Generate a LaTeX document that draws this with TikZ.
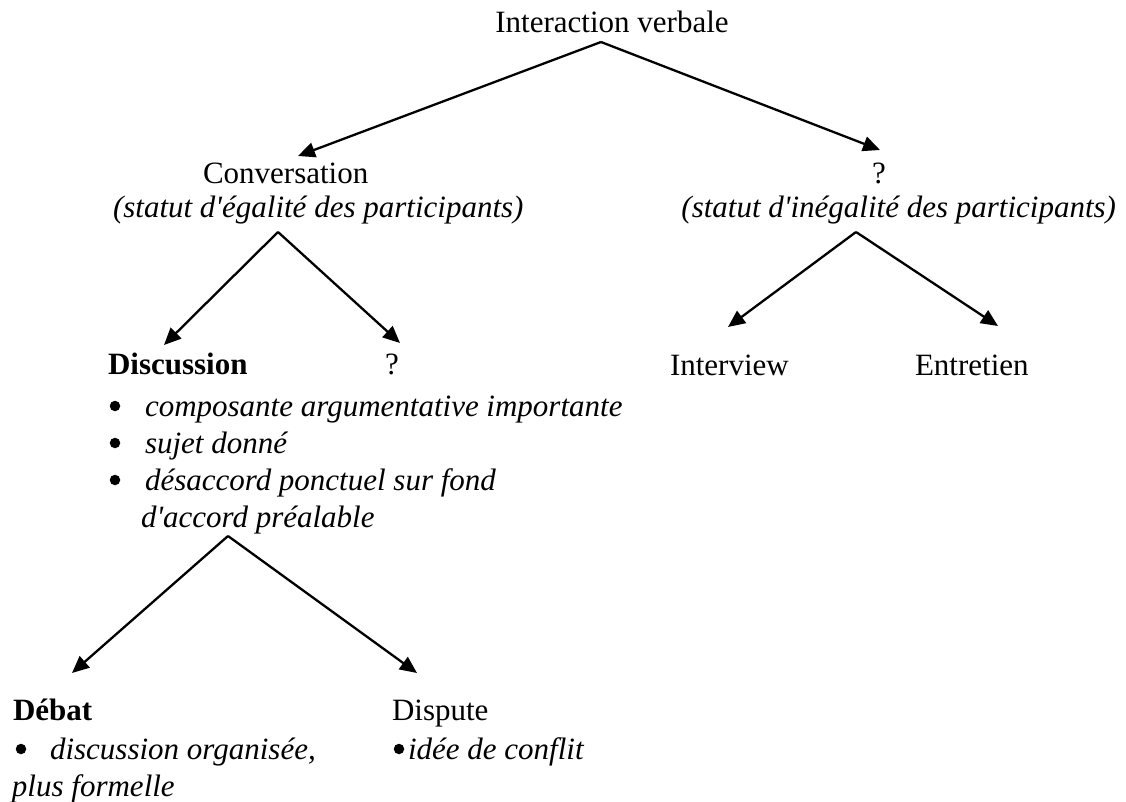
\documentclass[tikz,border=0pt]{standalone}
\usepackage{fontspec}
\setmainfont{Liberation Serif}
\usetikzlibrary{arrows.meta}
\begin{document}
\begin{tikzpicture}[x=1pt,y=-1pt,
  txt/.style={inner sep=0pt, outer sep=0pt, font=\fontsize{31}{37}\selectfont},
  it/.style={txt, font=\fontsize{31}{37}\selectfont\itshape},
  bf/.style={txt, font=\fontsize{31}{37}\selectfont\bfseries},
  bul/.style={circle, fill=black, inner sep=0pt, minimum size=10.5pt},
  arr/.style={line width=2.3pt, -{Triangle[length=17pt,width=15pt]}},
  ]
\useasboundingbox (0,0) rectangle (1126,802);
\newcommand{\ap}{\textquotesingle}
% level 0
\node[txt,anchor=base] (iv) at (612,33) {Interaction verbale};
% level 1
\node[txt,anchor=base west] (conv) at (203,184) {Conversation};
\node[it,anchor=base west] (egal) at (113,218) {(statut d\ap égalité des participants)};
\node[txt,anchor=base] (q1) at (879,184) {?};
\node[it,anchor=base east] (inegal) at (1116,218) {(statut d\ap inégalité des participants)};
% level 2
\node[bf,anchor=base west] (disc) at (108,374) {Discussion};
\node[txt,anchor=base] (q2) at (392,374) {?};
\node[txt,anchor=base west] (interv) at (670,375) {Interview};
\node[txt,anchor=base west] (entr) at (915,375) {Entretien};
\node[bul] (b1dot) at (115,406) {};
\node[it,anchor=base west] (b1) at (145,416) {composante argumentative importante};
\node[bul] (b2dot) at (115,443) {};
\node[it,anchor=base west] (b2) at (145,453) {sujet donné};
\node[bul] (b3dot) at (115,480) {};
\node[it,anchor=base west] (b3) at (145,490) {désaccord ponctuel sur fond};
\node[it,anchor=base west] (b4) at (141,527) {d\ap accord préalable};
% level 3
\node[bf,anchor=base west] (debat) at (13,720) {Débat};
\node[bul] (d1dot) at (21,749) {};
\node[it,anchor=base west] (d1) at (50,759) {discussion organisée,};
\node[it,anchor=base west] (d2) at (12,796) {plus formelle};
\node[txt,anchor=base west] (disp) at (392,720) {Dispute};
\node[bul] (p1dot) at (399,749) {};
\node[it,anchor=base west] (p1) at (408,759) {idée de conflit};
% connector ends
\coordinate (a0) at (601,42);
\coordinate (t-conv) at (298,156);
\coordinate (t-q1) at (880,150);
\coordinate (a1) at (278,232);
\coordinate (t-disc) at (164,345);
\coordinate (t-q2) at (400,343);
\coordinate (a2) at (856,232);
\coordinate (t-interv) at (728,327);
\coordinate (t-entr) at (998,326);
\coordinate (a3) at (228,536);
\coordinate (t-debat) at (72,673);
\coordinate (t-disp) at (417,673);
\draw[arr] (a0) -- (t-conv);
\draw[arr] (a0) -- (t-q1);
\draw[arr] (a1) -- (t-disc);
\draw[arr] (a1) -- (t-q2);
\draw[arr] (a2) -- (t-interv);
\draw[arr] (a2) -- (t-entr);
\draw[arr] (a3) -- (t-debat);
\draw[arr] (a3) -- (t-disp);
\end{tikzpicture}
\end{document}
